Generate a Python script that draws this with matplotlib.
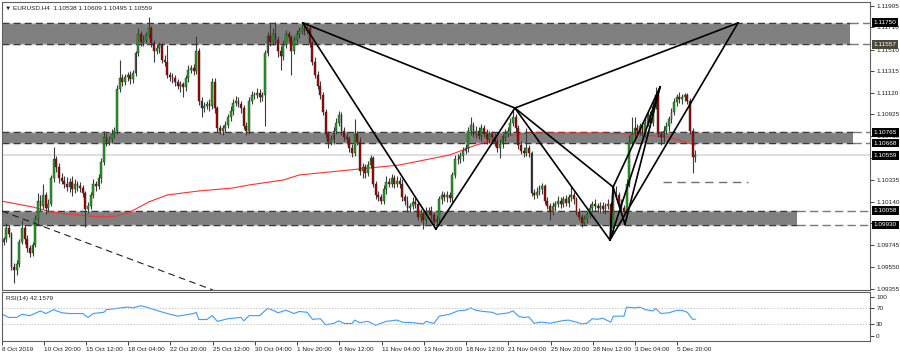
import matplotlib
matplotlib.use("Agg")
import matplotlib.pyplot as plt
import matplotlib.transforms as mtransforms
import numpy as np

plt.rcParams['font.family'] = ['Liberation Sans', 'DejaVu Sans']
FS = 4.6

# EURUSD H4, 8 Oct 2019 - 6 Dec 2019, prices stored as points: price = 1 + v / 1e5
first_open = 9720
close_pts = [
    9780, 9800, 9900, 9850, 9550, 9520,
    9580, 9780, 9900, 9800, 9720, 9680,
    9750, 9980, 10150, 10100, 10200, 10080,
    10120, 10350, 10520, 10450, 10350, 10330,
    10300, 10270, 10320, 10250, 10300, 10280,
    10260, 10220, 10070, 10100, 10200, 10300,
    10280, 10350, 10500, 10720, 10680, 10700,
    10750, 10780, 11150, 11250, 11220, 11260,
    11280, 11240, 11300, 11480, 11650, 11580,
    11600, 11640, 11700, 11570, 11500, 11520,
    11550, 11420, 11400, 11280, 11260, 11250,
    11220, 11180, 11200, 11170, 11250, 11330,
    11340, 11320, 11500, 11050, 10980, 11000,
    11020, 11000, 11220, 10980, 10800, 10780,
    10800, 10830, 10900, 10960, 11030, 11050,
    11020, 10980, 10820, 10780, 11050, 11100,
    11100, 11120, 11080, 11100, 11480, 11630,
    11580, 11650, 11600, 11500, 11450, 11550,
    11650, 11620, 11500, 11600, 11650, 11680,
    11700, 11680, 11700, 11570, 11400, 11280,
    11180, 11100, 10950, 10750, 10680, 10700,
    10780, 10850, 10920, 10780, 10720, 10700,
    10620, 10580, 10750, 10680, 10420, 10450,
    10400, 10470, 10530, 10300, 10200, 10180,
    10150, 10250, 10320, 10300, 10350, 10300,
    10330, 10300, 10180, 10150, 10080, 10100,
    10140, 10120, 10000, 10030, 9970, 10050,
    10060, 10020, 9960, 9980, 10160, 10200,
    10180, 10200, 10170, 10380, 10520, 10520,
    10550, 10600, 10620, 10780, 10830, 10750,
    10780, 10730, 10800, 10750, 10700, 10750,
    10720, 10680, 10620, 10660, 10720, 10750,
    10780, 10850, 10900, 10800, 10650, 10600,
    10580, 10620, 10580, 10220, 10200, 10230,
    10250, 10280, 10150, 10100, 10050, 10100,
    10120, 10150, 10120, 10160, 10130, 10180,
    10200, 10160, 10050, 10000, 9950, 9980,
    10030, 10080, 10120, 10100, 10080, 10100,
    10070, 10100, 10120, 9900, 10200, 10200,
    10120, 10080, 10050, 10300, 10680, 10750,
    10800, 10780, 10820, 10760, 10850, 10920,
    10850, 11000, 11100, 10750, 10720, 10780,
    10820, 10880, 10950, 11040, 11080, 11060,
    11080, 11100, 11050, 10780, 10538, 10559,
]
upper_wick = [
    30, 20, 50, 30, 20, 40,   30, 20, 70, 30, 40, 30,   30, 40, 70, 50, 100, 30,
    40, 30, 110, 30, 40, 50,  40, 60, 30, 50, 40, 30,   40, 30, 20, 40, 30, 40,
    30, 40, 30, 60, 40, 30,   40, 30, 40, 170, 40, 30,  30, 40, 30, 20, 50, 30,
    40, 30, 100, 20, 30, 40,  30, 20, 40, 150, 30, 40,  30, 20, 30, 20, 30, 40,
    30, 40, 130, 20, 30, 40,  30, 40, 30, 30, 20, 30,   30, 40, 30, 40, 30, 40,
    30, 30, 30, 40, 30, 40,   30, 40, 30, 30, 30, 40,   120, 50, 110, 30, 40, 50,
    40, 30, 20, 30, 40, 30,   40, 60, 30, 20, 30, 40,   40, 50, 30, 20, 30, 40,
    30, 40, 40, 30, 30, 40,   30, 40, 130, 30, 40, 40,  30, 40, 30, 20, 30, 40,
    30, 40, 50, 30, 40, 30,   40, 30, 40, 30, 40, 30,   40, 30, 30, 40, 30, 40,
    30, 40, 30, 40, 30, 40,   30, 40, 30, 30, 40, 50,   40, 30, 40, 30, 70, 30,
    40, 30, 40, 30, 40, 30,   30, 40, 30, 40, 30, 40,   30, 40, 70, 30, 30, 40,
    30, 180, 30, 20, 30, 40,  40, 30, 20, 30, 30, 40,   30, 40, 30, 30, 40, 30,
    80, 30, 20, 30, 30, 40,   30, 40, 30, 40, 30, 40,   40, 30, 40, 20, 50, 80,
    30, 40, 30, 40, 60, 150,  100, 40, 30, 40, 40, 30,  40, 40, 70, 20, 30, 40,
    40, 30, 30, 30, 30, 50,   30, 20, 20, 20, 20, 50,
]
lower_wick = [
    40, 30, 20, 30, 30, 110,  40, 30, 20, 40, 30, 40,   30, 20, 30, 40, 30, 50,
    30, 20, 30, 40, 40, 30,   40, 30, 40, 60, 30, 40,   30, 40, 160, 30, 30, 30,
    40, 30, 40, 30, 40, 30,   30, 40, 30, 20, 40, 30,   30, 40, 30, 30, 30, 40,
    40, 30, 30, 40, 100, 30,  40, 30, 40, 30, 30, 40,   40, 30, 50, 90, 30, 30,
    30, 40, 30, 40, 80, 30,   30, 40, 30, 40, 30, 30,   40, 30, 30, 30, 40, 30,
    30, 40, 30, 40, 30, 30,   40, 30, 40, 30, 280, 30,  40, 30, 40, 60, 120, 30,
    30, 40, 220, 30, 30, 40,  30, 40, 30, 40, 30, 30,   30, 40, 30, 30, 60, 30,
    40, 30, 30, 40, 30, 40,   30, 40, 30, 30, 40, 70,   50, 30, 30, 30, 40, 30,
    30, 30, 40, 30, 30, 40,   30, 40, 30, 40, 30, 30,   30, 40, 30, 40, 80, 30,
    30, 40, 60, 30, 30, 40,   30, 40, 30, 30, 30, 40,   30, 40, 30, 30, 40, 30,
    40, 30, 40, 30, 40, 30,   30, 40, 30, 90, 40, 30,   30, 40, 30, 30, 40, 30,
    40, 30, 40, 30, 40, 30,   30, 40, 30, 30, 80, 30,   40, 30, 40, 30, 30, 40,
    30, 40, 30, 30, 40, 20,   30, 40, 30, 40, 30, 40,   30, 40, 30, 90, 30, 40,
    40, 30, 40, 30, 30, 40,   40, 30, 40, 30, 40, 30,   40, 30, 30, 30, 70, 40,
    30, 40, 30, 30, 40, 30,   40, 30, 30, 30, 140, 43,
]

# red moving average, read at a few bars
ma_bar = [0, 12, 19, 25, 38, 44, 49, 56, 63, 75, 88, 94, 107, 113, 151, 170, 178, 189, 200, 227, 238, 253, 263]
ma_price = [1.10146, 1.10092, 1.10047, 1.10029, 1.10002, 1.10011, 1.10047, 1.10137, 1.10200, 1.10236,
            1.10263, 1.10290, 1.10335, 1.10380, 1.10470, 1.10560, 1.10632, 1.10722, 1.10758, 1.10758,
            1.10749, 1.10722, 1.10650]

# RSI(14)
rsi_bar = [0, 3, 6, 8, 11, 15, 17, 20, 23, 26, 31, 33, 35, 39, 40, 44, 48, 50, 53, 55, 59, 63, 67, 70,
           73, 74, 75, 78, 80, 82, 86, 91, 92, 94, 98, 101, 103, 105, 108, 111, 113, 116, 118, 121, 123,
           126, 128, 130, 133, 134, 136, 139, 142, 146, 150, 152, 156, 160, 161, 164, 166, 170, 173, 176,
           178, 180, 183, 186, 188, 192, 194, 196, 198, 200, 202, 203, 205, 208, 213, 215, 218, 220, 222,
           224, 226, 228, 231, 232, 236, 237, 240, 242, 244, 247, 248, 250, 253, 256, 258, 260, 262, 263]
rsi_val = [56.8, 46.8, 46.8, 54.8, 51.4, 63.4, 56.8, 66.8, 58.8, 56.8, 56.8, 46.8, 56.8, 60.1, 66.8,
           70.0, 73.4, 71.4, 76.8, 73.4, 64.8, 56.8, 50.1, 53.4, 56.8, 60.0, 41.4, 41.4, 51.4, 36.8,
           43.4, 46.8, 38.0, 51.4, 51.4, 70.0, 65.4, 58.8, 65.4, 56.8, 62.0, 60.0, 42.0, 43.4, 28.0,
           31.4, 38.0, 31.4, 31.4, 40.0, 33.4, 36.8, 26.8, 36.8, 40.0, 34.8, 33.4, 30.0, 36.8, 31.4,
           50.0, 55.0, 63.4, 65.4, 71.4, 64.8, 62.0, 60.0, 54.8, 58.1, 63.4, 50.1, 46.8, 48.1, 31.4,
           33.4, 34.8, 32.0, 38.8, 40.0, 34.8, 30.0, 32.0, 43.4, 42.0, 44.8, 34.8, 50.1, 50.1, 73.4,
           71.4, 73.4, 66.8, 63.4, 70.0, 56.8, 58.8, 64.8, 64.8, 60.0, 42.0, 42.16]

# support / resistance zones
zone_hi = [1.11750, 1.10765, 1.10058]
zone_lo = [1.11557, 1.10668, 1.09930]
zone_end = [321.6, 322.8, 301.6]

# harmonic pattern points (bar, price)
pts = {
    "X": (114.4, 1.11749), "A": (164.8, 1.09893), "B": (194.7, 1.10983),
    "C": (230.7, 1.09794), "D": (279.2, 1.11749),
    "P": (231.9, 1.10272), "Q": (249.7, 1.11173), "R": (236.4, 1.09937),
}
segments = [("X", "A"), ("A", "B"), ("X", "B"), ("B", "C"), ("C", "D"), ("B", "D"),
            ("B", "P"), ("C", "P"), ("C", "Q"), ("P", "Q"), ("Q", "R"), ("P", "R")]

trend_bar = [0.4, 80.3]
trend_price = [1.10055, 1.09344]
target_bar = [250.8, 283.0]
target_price = 1.10316
last_price = 1.10559

price_ticks = [1.11905, 1.11710, 1.11510, 1.11315, 1.11120, 1.10925, 1.10730, 1.10530,
               1.10335, 1.10140, 1.09945, 1.09745, 1.09550, 1.09355]
box_prices = [1.11750, 1.11557, 1.10765, 1.10668, 1.10559, 1.10058, 1.09930]
box_colors = ['black', '#4a4a3c', 'black', 'black', 'black', 'black', 'black']

date_bar = [0, 17, 33, 49, 65, 81, 97, 113, 129, 145, 161, 177, 193, 209, 225, 241, 257]
date_labels = ['8 Oct 2019', '10 Oct 20:00', '15 Oct 12:00', '18 Oct 04:00', '22 Oct 20:00',
               '25 Oct 12:00', '30 Oct 04:00', '1 Nov 20:00', '6 Nov 12:00', '11 Nov 04:00',
               '13 Nov 20:00', '18 Nov 12:00', '21 Nov 04:00', '25 Nov 20:00', '28 Nov 12:00',
               '3 Dec 04:00', '5 Dec 20:00']

closes = 1 + np.array(close_pts) / 1e5
opens = np.r_[1 + first_open / 1e5, closes[:-1]]
highs = np.maximum(opens, closes) + np.array(upper_wick) / 1e5
lows = np.minimum(opens, closes) - np.array(lower_wick) / 1e5
idx = np.arange(len(closes))

fig = plt.figure(figsize=(9, 3.55), dpi=100)
ax = fig.add_axes([2 / 900, 1 - 290 / 355, 868 / 900, 288 / 355])
ax2 = fig.add_axes([2 / 900, 1 - 341 / 355, 868 / 900, 49 / 355], sharex=ax)

xmax = 329.2
ax.set_xlim(0.42, xmax)
ax.set_ylim(1.09344, 1.11938)

# zones
for hi, lo, end in zip(zone_hi, zone_lo, zone_end):
    ax.fill_between([0.42, end], lo, hi, color='#808080', lw=0, zorder=1)
    for lv in (hi, lo):
        ax.plot([0.42, end], [lv, lv], color='#c8c8c8', lw=1.0, zorder=1.1)
        ax.plot([0.42, end], [lv, lv], color='#3a3a3a', lw=1.0, dashes=(5, 3), zorder=1.2)
        ax.plot([end, xmax], [lv, lv], color='#7a7a7a', lw=1.0, dashes=(6, 3), zorder=1.2)

ax.axhline(last_price, color='#dcdcdc', lw=1.3, zorder=1.3)
ax.plot(ma_bar, ma_price, color='#ff3030', lw=0.8, zorder=2)

# candles
up = closes >= opens
ax.vlines(idx, lows, highs, color='#3c3c3c', lw=0.8, zorder=3)
body = np.maximum(np.abs(closes - opens), 0.00003)
ax.bar(idx[up], body[up], bottom=np.minimum(opens, closes)[up], width=0.7,
       color='#1aa81a', edgecolor='#2a2a2a', lw=0.3, zorder=4)
ax.bar(idx[~up], body[~up], bottom=np.minimum(opens, closes)[~up], width=0.7,
       color='#a80000', edgecolor='#2a2a2a', lw=0.3, zorder=4)

for a, b in segments:
    ax.plot([pts[a][0], pts[b][0]], [pts[a][1], pts[b][1]], color='black', lw=1.2, zorder=5)

ax.plot(trend_bar, trend_price, color='#202020', lw=0.8, dashes=(6, 4), zorder=5)
ax.plot(target_bar, [target_price, target_price], color='#707070', lw=1.0, dashes=(6, 4), zorder=5)

# right price scale
ax.yaxis.tick_right()
ax.set_yticks(price_ticks)
ax.set_yticklabels(['%.5f' % p for p in price_ticks])
ax.tick_params(axis='y', length=3, width=0.6, pad=1.5, labelsize=FS, colors='#202020')
ax.tick_params(axis='x', bottom=False, labelbottom=False)
trans = mtransforms.blended_transform_factory(ax.transAxes, ax.transData)
for p, c in zip(box_prices, box_colors):
    ax.text(1.004, p, '%.5f' % p, transform=trans, fontsize=FS, color='white',
            va='center', ha='left', zorder=10, clip_on=False,
            bbox=dict(boxstyle='square,pad=0.3', fc=c, ec='none'))

for s in ax.spines.values():
    s.set_color('#606060')
    s.set_linewidth(0.8)

fig.text(5 / 900, 1 - 8 / 355, '\u25bc EURUSD.H4  1.10538 1.10609 1.10495 1.10559',
         fontsize=FS, va='center', ha='left', color='#202020')

# RSI panel
ax2.set_ylim(-13.6, 112)
ax2.plot(rsi_bar, rsi_val, color='#3d9bff', lw=0.8)
for lv in (70, 30):
    ax2.axhline(lv, color='#b8b8b8', lw=0.6, ls=(0, (1.5, 2)))
ax2.yaxis.tick_right()
ax2.set_yticks([100, 70, 30, 0])
ax2.tick_params(axis='y', length=3, width=0.6, pad=1.5, labelsize=FS, colors='#202020')
ax2.text(4 / 868, 0.86, 'RSI(14) 42.1579', transform=ax2.transAxes, fontsize=FS,
         va='center', ha='left', color='#202020')
tick_pos = [max(b - 0.76, 0.5) for b in date_bar]
ax2.set_xticks(tick_pos)
ax2.set_xticklabels(date_labels, ha='left')
ax2.tick_params(axis='x', length=3, width=0.6, pad=1.5, labelsize=FS, colors='#202020')
for s in ax2.spines.values():
    s.set_color('#606060')
    s.set_linewidth(0.8)

fig.savefig('out.png', dpi=100)
